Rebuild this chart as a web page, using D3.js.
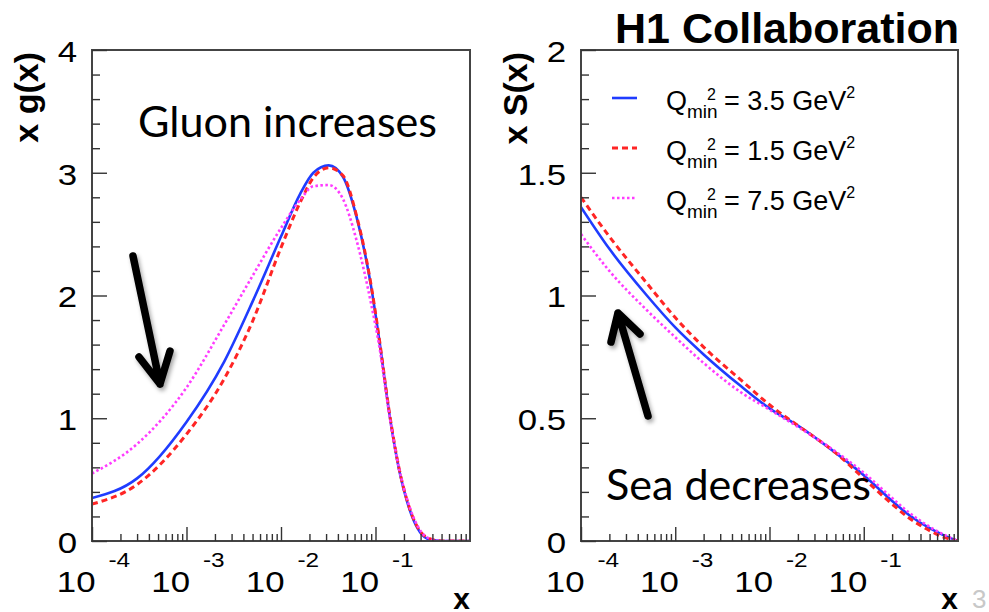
<!DOCTYPE html>
<html><head><meta charset="utf-8">
<script src="https://cdn.jsdelivr.net/npm/d3@7"></script>
<style>body{margin:0;background:#fff}svg{display:block}</style>
</head><body>
<svg id="chart" width="989" height="612"></svg>
<script>
// ---------- data ----------
const gluonX   = [0.0001, 0.0003, 0.001, 0.0025, 0.005, 0.01, 0.016, 0.022, 0.032, 0.045, 0.063, 0.09, 0.11, 0.14, 0.18, 0.22, 0.28, 0.35, 0.5, 1.0];
const gluonQ35 = [0.35, 0.51, 0.97, 1.46, 1.95, 2.48, 2.83, 3.00, 3.06, 2.97, 2.64, 2.07, 1.63, 1.04, 0.56, 0.30, 0.10, 0.02, 0.0, 0.0];
const gluonQ15 = [0.30, 0.46, 0.87, 1.32, 1.79, 2.39, 2.76, 2.96, 3.04, 2.98, 2.65, 2.08, 1.64, 1.05, 0.57, 0.31, 0.11, 0.03, 0.0, 0.0];
const gluonQ75 = [0.55, 0.79, 1.25, 1.76, 2.16, 2.55, 2.78, 2.89, 2.90, 2.79, 2.45, 1.93, 1.58, 1.03, 0.57, 0.32, 0.12, 0.03, 0.0, 0.0];

const seaX   = [0.0001, 0.0002, 0.0005, 0.001, 0.002, 0.005, 0.01, 0.02, 0.05, 0.1, 0.2, 0.3, 0.5, 0.7, 1.0];
const seaQ35 = [1.36, 1.19, 1.00, 0.87, 0.76, 0.63, 0.54, 0.47, 0.36, 0.268, 0.163, 0.107, 0.052, 0.024, 0.0];
const seaQ15 = [1.40, 1.24, 1.05, 0.91, 0.79, 0.655, 0.555, 0.47, 0.36, 0.255, 0.150, 0.095, 0.042, 0.016, 0.0];
const seaQ75 = [1.25, 1.10, 0.94, 0.83, 0.725, 0.605, 0.535, 0.465, 0.365, 0.278, 0.175, 0.117, 0.058, 0.027, 0.0];

const xDecadeExponents = [-4, -3, -2, -1];
const gluonYTicks = [0, 1, 2, 3, 4];
const seaYTicks   = [0, 0.5, 1, 1.5, 2];
const legendValues = ["3.5", "1.5", "7.5"];
const title = "H1 Collaboration";

// ---------- styles ----------
const seriesStyle = [
  {color: "#1f3cff", width: 2.6, dash: null},
  {color: "#ff2525", width: 3,   dash: "6,4"},
  {color: "#ff3cff", width: 2.6, dash: "2.5,2.5"}
];

const svg = d3.select("#chart");
const defs = svg.append("defs");
const f = defs.append("filter").attr("id","shadow").attr("x","-50%").attr("y","-50%").attr("width","200%").attr("height","200%");
f.append("feDropShadow").attr("dx",2).attr("dy",3).attr("stdDeviation",2).attr("flood-color","#000").attr("flood-opacity",0.35);

const SX = 1.16; // horizontal stretch of tick labels

function panel(p) {
  const x = d3.scaleLog().domain([1e-4, 1]).range([p.left, p.right]);
  const y = d3.scaleLinear().domain([0, p.ymax]).range([p.bottom, p.top]);
  const g = svg.append("g");
  const cid = "clip" + p.id;
  defs.append("clipPath").attr("id", cid).append("rect")
    .attr("x", p.left).attr("y", p.top).attr("width", p.right - p.left).attr("height", p.bottom - p.top);

  // curves
  const line = d3.line().x(d => x(d[0])).y(d => y(d[1])).curve(d3.curveMonotoneX);
  const cg = g.append("g").attr("clip-path", `url(#${cid})`);
  p.series.forEach((vals, i) => {
    const s = seriesStyle[i];
    cg.append("path").datum(d3.zip(p.xs, vals))
      .attr("d", line).attr("fill", "none")
      .attr("stroke", s.color).attr("stroke-width", s.width)
      .attr("stroke-dasharray", s.dash);
  });

  // frame
  g.append("rect").attr("x", p.left).attr("y", p.top)
    .attr("width", p.right - p.left).attr("height", p.bottom - p.top)
    .attr("fill", "none").attr("stroke", "#444").attr("stroke-width", 2);

  // y axis minor ticks
  const yMinor = d3.range(0, p.ymax + 1e-9, p.minor).filter(v => !p.yTicks.some(t => Math.abs(t - v) < 1e-9));
  const ya1 = g.append("g").attr("transform", `translate(${p.left},0)`)
    .call(d3.axisLeft(y).tickValues(yMinor).tickSizeInner(-8).tickSizeOuter(0).tickFormat(""));
  ya1.select(".domain").remove();
  const ya2 = g.append("g").attr("transform", `translate(${p.left},0)`)
    .call(d3.axisLeft(y).tickValues(p.yTicks).tickSizeInner(-15).tickSizeOuter(0).tickPadding(15).tickFormat(p.fmt));
  ya2.select(".domain").remove();
  ya2.selectAll("text").attr("x", -15 / SX).attr("dy", "0.38em").attr("transform", `scale(${SX},1)`)
    .attr("font-family", "'Liberation Sans', Arial, sans-serif").attr("font-size", 30).attr("fill", "#000");
  g.selectAll(".tick line").attr("stroke", "#333").attr("stroke-width", 1.4);

  // x axis
  const xMinor = [];
  xDecadeExponents.forEach(e => { for (let k = 2; k <= 9; k++) xMinor.push(k * Math.pow(10, e)); });
  const xMajor = xDecadeExponents.map(e => Math.pow(10, e));
  const xa1 = g.append("g").attr("transform", `translate(0,${p.bottom})`)
    .call(d3.axisBottom(x).tickValues(xMinor).tickSizeInner(-7).tickSizeOuter(0).tickFormat(""));
  xa1.select(".domain").remove();
  const xa2 = g.append("g").attr("transform", `translate(0,${p.bottom})`)
    .call(d3.axisBottom(x).tickValues(xMajor).tickSizeInner(-14).tickSizeOuter(0).tickFormat(""));
  xa2.select(".domain").remove();
  xa2.selectAll(".tick text").remove();
  xa2.selectAll(".tick").each(function(d) {
    const t = d3.select(this);
    const e = Math.round(Math.log10(d));
    t.append("text").attr("transform", `translate(3,51) scale(${SX},1)`).attr("text-anchor", "end")
      .attr("font-family", "'Liberation Sans', Arial, sans-serif").attr("font-size", 30).attr("fill", "#000").text("10");
    t.append("text").attr("transform", `translate(16,26) scale(${SX},1)`).attr("text-anchor", "start")
      .attr("font-family", "'Liberation Sans', Arial, sans-serif").attr("font-size", 21).attr("fill", "#000").text(String(e));
  });
  xa1.selectAll(".tick line").attr("stroke", "#333").attr("stroke-width", 1.4);
  xa2.selectAll(".tick line").attr("stroke", "#333").attr("stroke-width", 1.4);

  // axis titles
  g.append("text").attr("x", p.right).attr("y", 609).attr("text-anchor", "end")
    .attr("font-family", "'Liberation Sans', Arial, sans-serif").attr("font-weight", "bold").attr("font-size", 30).text("x");
  g.append("text").attr("transform", `translate(${p.ytitleX},${p.top + 2}) rotate(-90)`).attr("text-anchor", "end")
    .attr("font-family", "'Liberation Sans', Arial, sans-serif").attr("font-weight", "bold").attr("font-size", 34).text(p.ytitle);
  return {x, y, g};
}

panel({id: 1, left: 92, right: 470, top: 50, bottom: 541, ymax: 4, minor: 0.2,
  yTicks: gluonYTicks, fmt: d3.format("d"), xs: gluonX, series: [gluonQ35, gluonQ15, gluonQ75],
  ytitle: "x g(x)", ytitleX: 38});
panel({id: 2, left: 581, right: 958, top: 50, bottom: 541, ymax: 2, minor: 0.1,
  yTicks: seaYTicks, fmt: d => String(d), xs: seaX, series: [seaQ35, seaQ15, seaQ75],
  ytitle: "x S(x)", ytitleX: 527});

// title
svg.append("text").attr("x", 959).attr("y", 43).attr("text-anchor", "end")
  .attr("font-family", "'Liberation Sans', Arial, sans-serif").attr("font-weight", "bold").attr("font-size", 43).text(title);

// legend
legendValues.forEach((v, i) => {
  const ly = 98 + 50 * i;
  const s = seriesStyle[i];
  svg.append("line").attr("x1", 612).attr("x2", 637).attr("y1", ly).attr("y2", ly)
    .attr("stroke", s.color).attr("stroke-width", s.width).attr("stroke-dasharray", s.dash);
  const t = svg.append("text").attr("x", 666).attr("y", ly + 12)
    .attr("font-family", "'Liberation Sans', Arial, sans-serif").attr("font-size", 27).attr("fill", "#000");
  t.append("tspan").text("Q");
  t.append("tspan").attr("font-size", 19).attr("dy", 8).text("min");
  t.append("tspan").attr("font-size", 16).attr("x", 707).attr("dy", -18).text("2");
  t.append("tspan").attr("x", 724).attr("dy", 10).text("= " + v + " GeV");
  t.append("tspan").attr("font-size", 16).attr("dy", -12).text("2");
});

// annotations
const ann = svg.append("g").attr("font-family", "Lato, 'Open Sans', sans-serif").attr("font-size", 42).attr("fill", "#000");
ann.append("text").attr("x", 138).attr("y", 137).attr("textLength", 299).attr("lengthAdjust", "spacingAndGlyphs").text("Gluon increases");
ann.append("text").attr("x", 606).attr("y", 500).attr("textLength", 265).attr("lengthAdjust", "spacingAndGlyphs").text("Sea decreases");

// arrows
const arr = svg.append("g").attr("fill", "none").attr("stroke", "#000").attr("stroke-width", 7.5)
  .attr("stroke-linecap", "round").attr("stroke-linejoin", "round").attr("filter", "url(#shadow)");
arr.append("path").attr("d", "M133,256 L160,384 M139,357 L160,384 L170,351");
arr.append("path").attr("d", "M648,416 L618,313 M611,342 L618,313 L640,334");

// slide number remnant
svg.append("text").attr("x", 972).attr("y", 608).attr("font-family", "'Liberation Sans', Arial, sans-serif")
  .attr("font-size", 26).attr("fill", "#c8c8c8").text("3");
</script>
</body></html>
